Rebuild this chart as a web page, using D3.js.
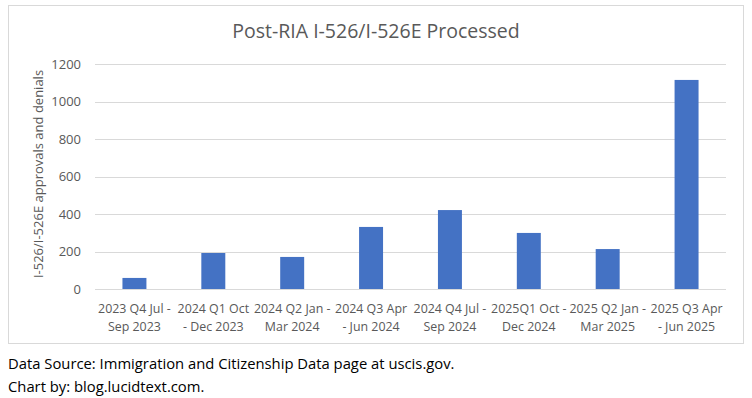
<!DOCTYPE html>
<html>
<head>
<meta charset="utf-8">
<script src="https://cdn.jsdelivr.net/npm/d3@7"></script>
<style>
	body { margin: 0; background: #fff; }
	text { font-family: "Open Sans", "Noto Sans", sans-serif; }
</style>
</head>
<body>
<svg id="chart"></svg>
<script>
const categories = [
	["2023 Q4 Jul -", "Sep 2023"],
	["2024 Q1 Oct", "- Dec 2023"],
	["2024 Q2 Jan -", "Mar 2024"],
	["2024 Q3 Apr", "- Jun 2024"],
	["2024 Q4 Jul -", "Sep 2024"],
	["2025Q1 Oct -", "Dec 2024"],
	["2025 Q2 Jan -", "Mar 2025"],
	["2025 Q3 Apr", "- Jun 2025"],
];
const processed = [59, 192, 171, 331, 421, 299, 213, 1115];
const yTicks = [0, 200, 400, 600, 800, 1000, 1200];

const width = 752;
const height = 398;
const svg = d3.select("#chart").attr("width", width).attr("height", height);

// outer chart frame
svg.append("rect")
	.attr("x", 8.5).attr("y", 5.5)
	.attr("width", 735).attr("height", 338)
	.attr("fill", "#fff")
	.attr("stroke", "#d9d9d9")
	.attr("stroke-width", 1);

const plot = { left: 95, right: 726, top: 64, bottom: 289 };

const x = d3.scaleBand()
	.domain(d3.range(categories.length))
	.range([plot.left, plot.right])
	.paddingInner(0.696)
	.paddingOuter(0.348);

const y = d3.scaleLinear().domain([0, 1200]).range([plot.bottom, plot.top]);

// gridlines
svg.append("g")
	.selectAll("line")
	.data(yTicks)
	.join("line")
	.attr("x1", plot.left).attr("x2", plot.right)
	.attr("y1", (d) => Math.round(y(d)) + 0.5)
	.attr("y2", (d) => Math.round(y(d)) + 0.5)
	.attr("stroke", "#d9d9d9")
	.attr("stroke-width", 1);

// y tick labels
svg.append("g")
	.selectAll("text")
	.data(yTicks)
	.join("text")
	.attr("x", 81)
	.attr("y", (d) => y(d))
	.attr("dy", "0.35em")
	.attr("text-anchor", "end")
	.attr("font-size", "13px")
	.attr("fill", "#595959")
	.text((d) => d);

// bars
svg.append("g")
	.selectAll("rect")
	.data(processed)
	.join("rect")
	.attr("x", (d, i) => x(i))
	.attr("y", (d) => y(d))
	.attr("width", x.bandwidth())
	.attr("height", (d) => y(0) - y(d))
	.attr("fill", "#4472c4");

// category labels, two lines each
const catG = svg.append("g")
	.selectAll("text")
	.data(categories)
	.join("text")
	.attr("text-anchor", "middle")
	.attr("font-size", "12.4px")
	.attr("fill", "#595959");
catG.each(function (lines, i) {
	const cx = x(i) + x.bandwidth() / 2;
	d3.select(this).selectAll("tspan")
		.data(lines)
		.join("tspan")
		.attr("x", cx)
		.attr("y", (d, j) => 313 + j * 18)
		.text((d) => d);
});

// title
svg.append("text")
	.attr("x", 376)
	.attr("y", 38)
	.attr("text-anchor", "middle")
	.attr("font-size", "19.5px")
	.attr("fill", "#595959")
	.text("Post-RIA I-526/I-526E Processed");

// y axis title
svg.append("text")
	.attr("transform", "translate(43,174) rotate(-90)")
	.attr("text-anchor", "middle")
	.attr("font-size", "13px")
	.attr("fill", "#595959")
	.text("I-526/I-526E approvals and denials");

// footer notes
const notes = [
	"Data Source: Immigration and Citizenship Data page at uscis.gov.",
	"Chart by: blog.lucidtext.com.",
];
svg.append("g")
	.selectAll("text")
	.data(notes)
	.join("text")
	.attr("x", 8)
	.attr("y", (d, i) => 369 + i * 23)
	.attr("font-size", "14.8px")
	.attr("fill", "#000")
	.text((d) => d);
</script>
</body>
</html>
